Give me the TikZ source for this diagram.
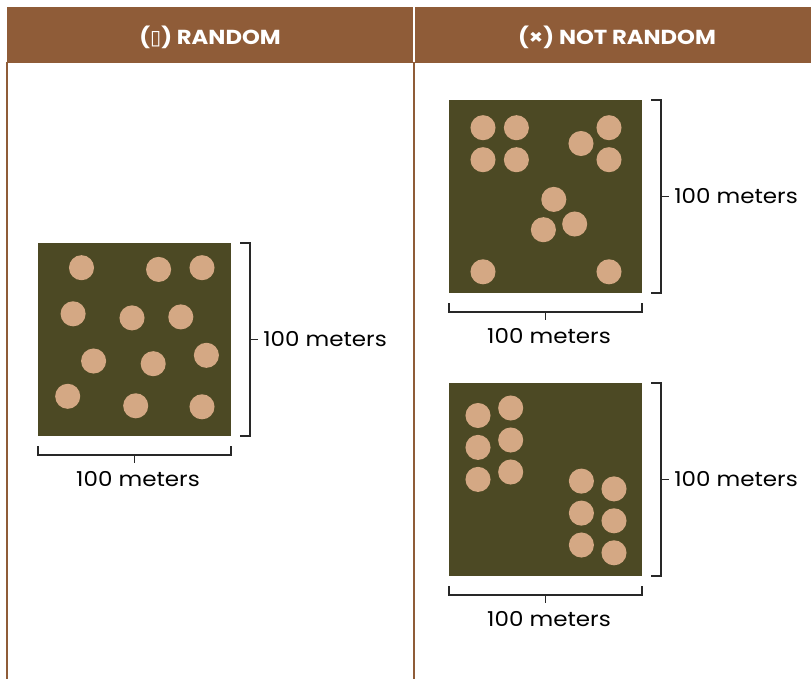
\documentclass[tikz,border=0pt]{standalone}
\usepackage{fontspec}
\setmainfont{Poppins}[FakeStretch=1.12]
\newfontfamily\symfont{DejaVu Sans}
\usepackage{tikz}
\usetikzlibrary{positioning}
\definecolor{hdrbrown}{RGB}{143,92,56}
\definecolor{fieldolive}{RGB}{76,73,36}
\definecolor{treetan}{RGB}{212,168,132}
\definecolor{brackgray}{RGB}{40,40,40}
\tikzset{
  header/.style={font=\fontsize{15.2}{18}\selectfont\bfseries, text=white},
  field/.style={fill=fieldolive},
  tree/.style={fill=treetan},
  bracket/.style={draw=brackgray, line width=0.9pt},
  sizelabel/.style={font=\fontsize{15.4}{18}\selectfont, text=black, inner sep=0pt},
  rule/.style={draw=hdrbrown, line width=1.5pt}
}

\begin{document}
\begin{tikzpicture}[x=0.75pt, y=-0.75pt]
  \useasboundingbox (0,0) rectangle (811,679);

  % header band and column rules
  \fill[hdrbrown] (7,7) rectangle (811,63);
  \draw[white, line width=1.2pt] (414,7) -- (414,63);
  \draw[rule] (7,62) -- (7,679);
  \draw[rule] (414,62) -- (414,679);
  \node[header] (hrandom) at (210,37) {({\symfont ▯}) RANDOM};
  \node[header] (hnotrandom) at (617,37) {(×) NOT RANDOM};

  % squares with size brackets
  \foreach \px/\py/\nm in {38/243/left, 449/100/topright, 449/383/botright} {
    \begin{scope}[shift={(\px,\py)}]
      \fill[field] (0,0) rectangle (193,193);
      \draw[bracket] (202,0) -- (212,0) -- (212,193) -- (202,193);
      \draw[bracket] (212,96.5) -- (220,96.5);
      \node[sizelabel, anchor=west] (side-\nm) at (225,96.5) {100 meters};
      \draw[bracket] (0,203) -- (0,212) -- (193,212) -- (193,203);
      \draw[bracket] (96.5,212) -- (96.5,220);
      \node[sizelabel, anchor=north] (base-\nm) at (100,228) {100 meters};
    \end{scope}
  }

  % random pattern
  \begin{scope}[shift={(38,243)}]
    \foreach \cx/\cy in {43.5/24.7, 120.6/26.4, 164/24.7, 35.1/70.8, 94/74.9,
      142.8/73.9, 55.6/118, 115.2/120.7, 168.4/112.3, 29.7/153.3, 97.7/162.8, 164/163.8}
      \fill[tree] (\cx,\cy) circle[radius=9.4pt];
  \end{scope}

  % clumped pattern
  \begin{scope}[shift={(449,100)}]
    \foreach \cx/\cy in {34/27.7, 67.4/27.7, 160/27.7, 132/43.5, 34/59.7, 67.4/59.7,
      160/59.7, 104.8/99.4, 94.4/129.7, 125.7/124, 34/171.8, 160/171.8}
      \fill[tree] (\cx,\cy) circle[radius=9.4pt];
  \end{scope}

  % two clusters
  \begin{scope}[shift={(449,383)}]
    \foreach \cx/\cy in {29/32.5, 61.7/25, 29/64.4, 61.7/57, 29/96.4, 61.7/89,
      132.4/98.1, 165/105.9, 132.4/130.1, 165/137.8, 132.4/162, 165/169.8}
      \fill[tree] (\cx,\cy) circle[radius=9.4pt];
  \end{scope}
\end{tikzpicture}
\end{document}
